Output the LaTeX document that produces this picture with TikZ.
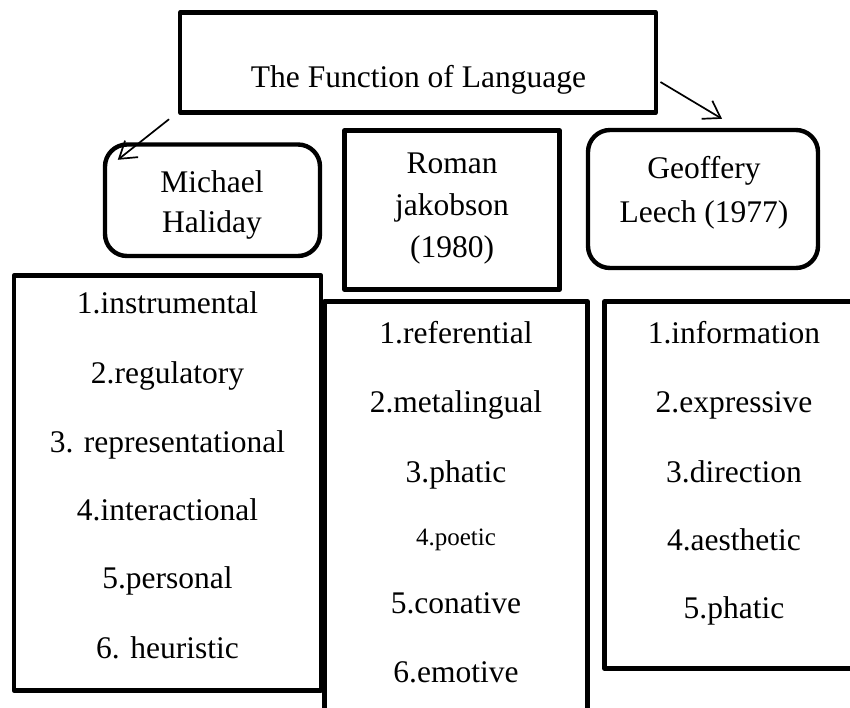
\documentclass[tikz,border=0pt]{standalone}
\usepackage{fontspec}
\setmainfont{Liberation Serif}
\usepackage{tikz}
\usetikzlibrary{calc,arrows.meta}

\begin{document}
\begin{tikzpicture}[x=1pt,y=-1pt,
    sqbox/.style={draw,line width=4.4pt,line join=round,inner sep=0pt},
    rndbox/.style={sqbox,rounded corners=22pt},
    entry/.style={anchor=base,inner sep=0pt,font=\fontsize{31.5}{40}\selectfont},
    link/.style={line width=1.7pt,-{Straight Barb[length=16pt,width=21pt]}}]
    \useasboundingbox (0,0) rectangle (850,707);
    \clip (0,0) rectangle (850,707);

    % boxes
    \node[sqbox,minimum width=475.5pt,minimum height=100pt] (F) at (418,62.5) {};
    \node[rndbox,minimum width=215pt,minimum height=111.5pt] (H) at (212.5,200.25) {};
    \node[sqbox,minimum width=215pt,minimum height=159pt] (J) at (452,210) {};
    \node[rndbox,minimum width=230pt,minimum height=138pt] (L) at (703,199) {};
    \node[sqbox,minimum width=307pt,minimum height=415pt] (HL) at (167.5,483) {};
    \node[sqbox,minimum width=263pt,minimum height=418.5pt] (JL) at (456,510.75) {};
    \node[sqbox,minimum width=259pt,minimum height=367pt] (LL) at (734,485) {};

    % titles
    \node[entry] (Ft) at (418.5,87) {The Function of Language};
    \node[entry] (Ht1) at (212,192) {Michael};
    \node[entry] (Ht2) at (212,232) {Haliday};
    \node[entry] (Jt1) at (452,173) {Roman};
    \node[entry] (Jt2) at (452,215) {jakobson};
    \node[entry] (Jt3) at (452,257) {(1980)};
    \node[entry] (Lt1) at (704,178) {Geoffery};
    \node[entry] (Lt2) at (704,222) {Leech (1977)};

    % Haliday
    \node[entry] (H1) at (167.5,313) {1.instrumental};
    \node[entry] (H2) at (167.5,383) {2.regulatory};
    \node[entry] (H3) at (167.5,452) {3. representational};
    \node[entry] (H4) at (167.5,520) {4.interactional};
    \node[entry] (H5) at (167.5,588) {5.personal};
    \node[entry] (H6) at (167.5,658) {6. heuristic};

    % jakobson
    \node[entry] (J1) at (456,343) {1.referential};
    \node[entry] (J2) at (456,412) {2.metalingual};
    \node[entry] (J3) at (456,482) {3.phatic};
    \node[entry,font=\fontsize{25}{30}\selectfont] (J4) at (456,545) {4.poetic};
    \node[entry] (J5) at (456,613) {5.conative};
    \node[entry] (J6) at (456,682) {6.emotive};

    % Leech
    \node[entry] (L1) at (734,343) {1.information};
    \node[entry] (L2) at (734,412) {2.expressive};
    \node[entry] (L3) at (734,482) {3.direction};
    \node[entry] (L4) at (734,550) {4.aesthetic};
    \node[entry] (L5) at (734,618) {5.phatic};

    \draw[link] ($(F.south west)+(-9,4.5)$) -- ($(H.north west)+(15,17.5)$);
    \draw[link] ($(F.east)+(2.5,19.5)$) -- ($(L.north)+(19,-9)$);
  \end{tikzpicture}
\end{document}
